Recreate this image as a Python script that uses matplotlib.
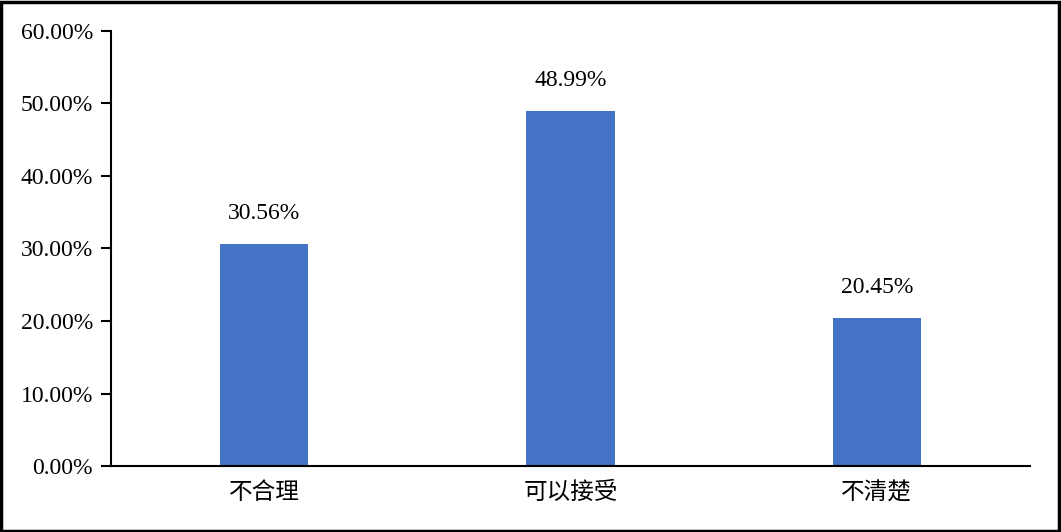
import matplotlib.pyplot as plt
from matplotlib.ticker import FuncFormatter
from matplotlib.patches import Rectangle

# Data
categories = ['不合理', '可以接受', '不清楚']
shares = [30.56, 48.99, 20.45]
y_ticks = [0, 10, 20, 30, 40, 50, 60]

plt.rcParams['font.family'] = ['Liberation Serif', 'Noto Sans CJK SC', 'DejaVu Sans']

fig = plt.figure(figsize=(10.61, 5.32), dpi=100)
ax = fig.add_axes([111 / 1061, 1 - 466 / 532, 919 / 1061, 435 / 532])

x = range(len(categories))
bars = ax.bar(x, shares, width=0.288, color='#4472C4')

for xi, v in zip(x, shares):
    ax.annotate(f'{v:.2f}%', (xi, v), xytext=(0, 22), textcoords='offset points',
                ha='center', va='center', fontsize=17)

ax.set_xlim(-0.5, 2.5)
ax.set_ylim(0, 60)
ax.set_yticks(y_ticks)
ax.yaxis.set_major_formatter(FuncFormatter(lambda v, p: f'{v:.2f}%'))
ax.set_xticks(list(x))
ax.set_xticklabels(categories, family=['Noto Sans CJK SC', 'DejaVu Sans'], fontsize=17)
ax.tick_params(axis='x', length=0, pad=11)
ax.tick_params(axis='y', length=7, width=1.5, labelsize=17, pad=6)

for side in ['top', 'right']:
    ax.spines[side].set_visible(False)
ax.spines['left'].set_linewidth(1.5)
ax.spines['bottom'].set_linewidth(1.5)

# figure border
fig.patches.append(Rectangle((0.001, 0.002), 0.997, 0.995, transform=fig.transFigure,
                             fill=False, edgecolor='black', linewidth=2.5))

fig.savefig('out.png', dpi=100)
